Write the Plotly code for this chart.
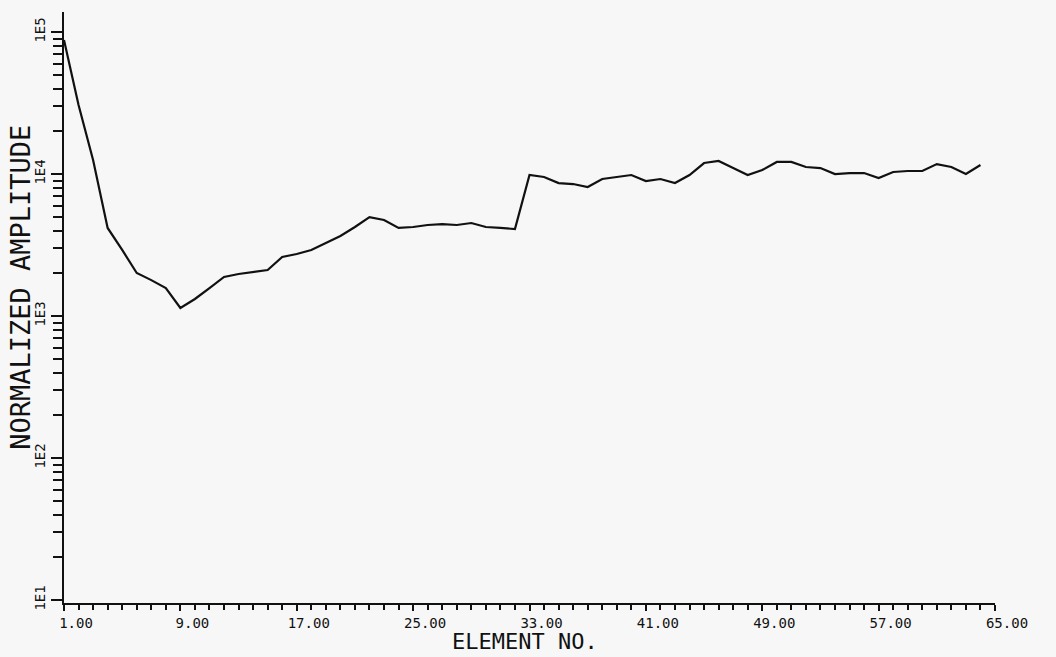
import plotly.graph_objects as go

# Element numbers and normalized amplitude values
elements = list(range(1, 65))
amplitude = [
    88000, 30600, 12550, 4170, 2920, 2010, 1790, 1575, 1140, 1318,
    1575, 1883, 1976, 2042, 2108, 2603, 2733, 2920, 3266, 3658,
    4236, 4977, 4745, 4170, 4236, 4375, 4444, 4375, 4519, 4236,
    4170, 4100, 9840, 9530, 8640, 8500, 8100, 9220, 9530, 9840,
    8930, 9220, 8640, 9840, 11950, 12350, 11020, 9840, 10670, 12160,
    12160, 11200, 11020, 10000, 10160, 10160, 9370, 10330, 10500, 10500,
    11750, 11200, 10000, 11570,
]

x_tick_vals = [1, 9, 17, 25, 33, 41, 49, 57, 65]
x_tick_text = ["1.00", "9.00", "17.00", "25.00", "33.00", "41.00", "49.00", "57.00", "65.00"]
x_minor_vals = [v for v in range(1, 66) if v not in x_tick_vals]

y_tick_vals = [10, 100, 1000, 10000, 100000]
y_tick_text = ["1E1", "1E2", "1E3", "1E4", "1E5"]
y_minor_vals = [m * d for d in [10, 100, 1000, 10000] for m in range(2, 10)]

x_title = "ELEMENT NO."
y_title = "NORMALIZED AMPLITUDE"

FONT = "DejaVu Sans Mono"
INK = "#111111"

fig = go.Figure()
fig.add_trace(go.Scatter(
    x=elements, y=amplitude, mode="lines",
    line=dict(color=INK, width=2.2),
    showlegend=False, hoverinfo="skip",
))

fig.update_layout(
    width=1056, height=657,
    margin=dict(l=64, r=61, t=12, b=54),
    paper_bgcolor="#f7f7f7", plot_bgcolor="#f7f7f7",
    xaxis=dict(
        range=[1, 65], showgrid=False, zeroline=False,
        showline=True, linecolor=INK, linewidth=2,
        tickmode="array", tickvals=x_tick_vals, ticktext=x_tick_text,
        ticks="outside", ticklen=6, tickwidth=2, tickcolor=INK,
        tickfont=dict(family=FONT, size=14, color=INK),
        ticklabelshift=12,
        minor=dict(tickmode="array", tickvals=x_minor_vals, ticks="outside",
                   ticklen=5, tickwidth=2, tickcolor=INK, showgrid=False),
    ),
    yaxis=dict(
        type="log", range=[0.979, 5.141], showgrid=False, zeroline=False,
        showline=True, linecolor=INK, linewidth=2,
        tickmode="array", tickvals=y_tick_vals, ticktext=y_tick_text,
        ticks="outside", ticklen=11, tickwidth=2, tickcolor=INK,
        tickangle=-90,
        tickfont=dict(family=FONT, size=14, color=INK),
        minor=dict(tickmode="array", tickvals=y_minor_vals, ticks="outside",
                   ticklen=9, tickwidth=2, tickcolor=INK, showgrid=False),
    ),
    annotations=[
        dict(text=x_title, xref="paper", yref="paper", x=0.495, y=-0.0905,
             xanchor="center", yanchor="bottom", showarrow=False,
             font=dict(family=FONT, size=22, color=INK)),
        dict(text=y_title, xref="paper", yref="paper", x=-0.0462, y=0.535,
             xanchor="center", yanchor="middle", showarrow=False, textangle=-90,
             font=dict(family=FONT, size=27, color=INK)),
    ],
)

fig.write_html(
    "out.html",
    config={"displayModeBar": False},
    post_script="document.body.style.margin='0';document.body.style.overflow='hidden';",
)
